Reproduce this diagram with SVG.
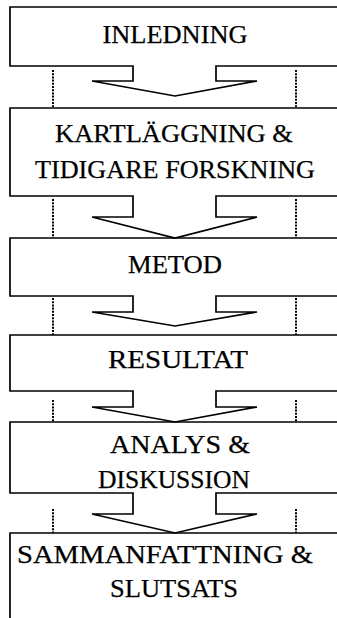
<svg xmlns="http://www.w3.org/2000/svg" width="337" height="618" viewBox="0 0 337 618">
<style>
.box{fill:none;stroke:#000;stroke-width:1.7;stroke-linejoin:miter}
.dot{stroke:#000;stroke-width:2;stroke-dasharray:2 1.2;fill:none}
.t{font-family:"Liberation Serif","Times New Roman",serif;font-size:26px;fill:#000;stroke:#000;stroke-width:0.25;text-anchor:middle}
</style>
<rect width="337" height="618" fill="#fff"/>
<g id="connectors">
<line class="dot" x1="53" y1="70" x2="53" y2="107"/>
<line class="dot" x1="296" y1="70" x2="296" y2="107"/>
<line class="dot" x1="53" y1="199" x2="53" y2="238"/>
<line class="dot" x1="296" y1="199" x2="296" y2="238"/>
<line class="dot" x1="53" y1="298" x2="53" y2="335"/>
<line class="dot" x1="296" y1="298" x2="296" y2="335"/>
<line class="dot" x1="53" y1="400" x2="53" y2="422"/>
<line class="dot" x1="296" y1="400" x2="296" y2="422"/>
<line class="dot" x1="53" y1="509" x2="53" y2="533"/>
<line class="dot" x1="296" y1="509" x2="296" y2="533"/>
</g>
<g id="inledning">
<path class="box" d="M338 7H10V66H133V81H92L175 96L257 81H216V66H338"/>
<text class="t" x="175" y="43" textLength="145" lengthAdjust="spacingAndGlyphs">INLEDNING</text>
</g>
<g id="kartlaggning">
<path class="box" d="M338 108H10V196H133V217H92L175 238L257 217H216V196H338"/>
<text class="t" x="174" y="142" textLength="238" lengthAdjust="spacingAndGlyphs">KARTLÄGGNING &amp;</text>
<text class="t" x="175" y="178" textLength="280" lengthAdjust="spacingAndGlyphs">TIDIGARE FORSKNING</text>
</g>
<g id="metod">
<path class="box" d="M338 238H10V296H133V312H92L175 326L257 312H216V296H338"/>
<text class="t" x="175" y="273" textLength="94" lengthAdjust="spacingAndGlyphs">METOD</text>
</g>
<g id="resultat">
<path class="box" d="M338 335H10V391H133V407H92L175 422L257 407H216V391H338"/>
<text class="t" x="178" y="368" textLength="140" lengthAdjust="spacingAndGlyphs">RESULTAT</text>
</g>
<g id="analys">
<path class="box" d="M338 422H10V493H133V514H92L175 533L257 514H216V493H338"/>
<text class="t" x="180" y="453" textLength="140" lengthAdjust="spacingAndGlyphs">ANALYS &amp;</text>
<text class="t" x="174" y="488" textLength="152" lengthAdjust="spacingAndGlyphs">DISKUSSION</text>
</g>
<g id="sammanfattning">
<path class="box" d="M338 533H10V619"/>
<text class="t" x="165" y="563" textLength="296" lengthAdjust="spacingAndGlyphs">SAMMANFATTNING &amp;</text>
<text class="t" x="174" y="597" textLength="128" lengthAdjust="spacingAndGlyphs">SLUTSATS</text>
</g>
</svg>
